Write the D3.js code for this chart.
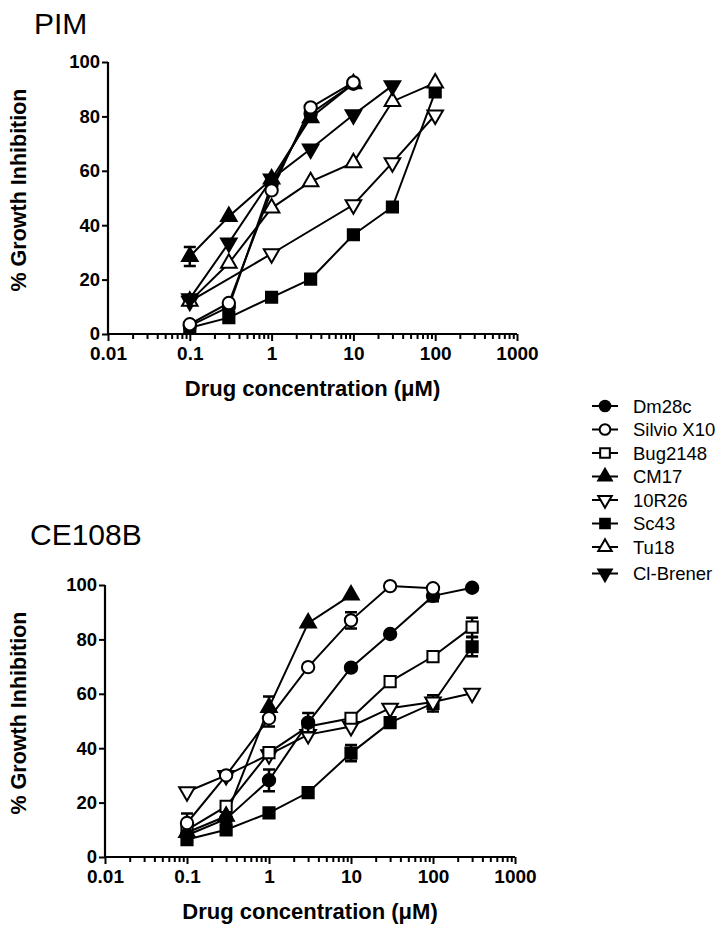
<!DOCTYPE html>
<html>
<head>
<meta charset="utf-8">
<script src="https://cdn.jsdelivr.net/npm/d3@7"></script>
<style>
  html, body { margin: 0; padding: 0; background: #fff; }
  svg { display: block; }
  text { font-family: "Liberation Sans", Arial, sans-serif; fill: #000; }
</style>
</head>
<body>
<svg id="chart" width="721" height="928"></svg>
<script>
// ---------------- DATA ----------------
const doses = [0.1, 0.3, 1, 3, 10, 30, 100, 300];
const strainNames = ["Dm28c", "Silvio X10", "Bug2148", "CM17", "10R26", "Sc43", "Tu18", "Cl-Brener"];
const xTickLabels = ["0.01", "0.1", "1", "10", "100", "1000"];
const yTickLabels = [0, 20, 40, 60, 80, 100];

// PIM panel (% growth inhibition per dose; null = not measured)
const pimDm28c    = [3, 10, 55, 81, 92, null, null, null];
const pimSilvioX10 = [3.6, 11.4, 52.8, 83.3, 92.5, null, null, null];
const pimCM17     = [28.5, 43.2, 57, 79.5, 92, null, null, null];
const pim10R26    = [12, null, 29.5, null, 47.5, 63, 80.5, null];
const pimSc43     = [2.3, 6, 13.5, 20.2, 36.5, 46.7, 89, null];
const pimTu18     = [12, 26, 46.3, 56, 63, 85.5, 92.3, null];
const pimClBrener = [13, 33.5, 57, 68, 80.6, 91.3, null, null];
const pimCM17Err  = [3.5, 0, 0, 0, 0, 0, 0, 0];

// CE108B panel
const ceDm28c     = [8, 14, 28.2, 49.4, 69.6, 82, 96, 99];
const ceSilvioX10 = [12.5, 30, 51, 69.8, 87, 99.6, 98.8, null];
const ceBug2148   = [10, 18.6, 38.4, 48, 51, 64.5, 73.7, 84.5];
const ceCM17      = [9, 15, 55, 86, 96.3, null, null, null];
const ce10R26     = [24, 30, 37.6, 45, 48, 54.7, 57, 60.2];
const ceSc43      = [6.4, 10, 16.2, 23.7, 38.2, 49.4, 56.5, 77.3];
const ceDm28cErr  = [0, 0, 4, 3.5, 0, 0, 2, 0];
const ceSilvioErr = [3.5, 0, 3, 0, 3, 0, 0, 0];
const ceBug2148Err = [0, 0, 0, 0, 0, 0, 0, 3.5];
const ceCM17Err   = [0, 0, 4, 0, 0, 0, 0, 0];
const ceSc43Err   = [0, 0, 0, 0, 3, 0, 3, 3.5];

// ---------------- STYLE ----------------
const markerStyle = {
  "Dm28c":      {shape: "circle",   fill: "#000"},
  "Silvio X10": {shape: "circle",   fill: "#fff"},
  "Bug2148":    {shape: "square",   fill: "#fff"},
  "CM17":       {shape: "triUp",    fill: "#000"},
  "10R26":      {shape: "triDown",  fill: "#fff"},
  "Sc43":       {shape: "square",   fill: "#000"},
  "Tu18":       {shape: "triUp",    fill: "#fff"},
  "Cl-Brener":  {shape: "triDown",  fill: "#000"}
};

const panels = [
  {
    title: "PIM", titleX: 34, titleY: 34,
    xRange: [108, 517], yRange: [334, 62],
    series: [
      {name: "Sc43", values: pimSc43},
      {name: "10R26", values: pim10R26},
      {name: "Tu18", values: pimTu18},
      {name: "Cl-Brener", values: pimClBrener},
      {name: "Dm28c", values: pimDm28c},
      {name: "CM17", values: pimCM17, err: pimCM17Err},
      {name: "Silvio X10", values: pimSilvioX10}
    ]
  },
  {
    title: "CE108B", titleX: 30, titleY: 545,
    xRange: [105, 515], yRange: [857, 585],
    series: [
      {name: "Sc43", values: ceSc43, err: ceSc43Err},
      {name: "10R26", values: ce10R26},
      {name: "Bug2148", values: ceBug2148, err: ceBug2148Err},
      {name: "Dm28c", values: ceDm28c, err: ceDm28cErr},
      {name: "CM17", values: ceCM17, err: ceCM17Err},
      {name: "Silvio X10", values: ceSilvioX10, err: ceSilvioErr}
    ]
  }
];

const svg = d3.select("#chart");

function symbolPath(shape, scale) {
  const k = scale || 1;
  if (shape === "circle") return d3.symbol(d3.symbolCircle, 120 * k)();
  if (shape === "square") return d3.symbol(d3.symbolSquare, 125 * k)();
  return d3.symbol(d3.symbolTriangle, 105 * k)();
}
function drawMarker(g, name, x, y, scale) {
  const st = markerStyle[name];
  g.append("path")
    .attr("d", symbolPath(st.shape, scale))
    .attr("transform", `translate(${x},${y})` + (st.shape === "triDown" ? " rotate(180)" : ""))
    .attr("fill", st.fill)
    .attr("stroke", "#000")
    .attr("stroke-width", 2);
}

panels.forEach(p => {
  const x = d3.scaleLog().domain([0.01, 1000]).range(p.xRange);
  const y = d3.scaleLinear().domain([0, 100]).range(p.yRange);
  const g = svg.append("g");

  // title
  g.append("text").attr("x", p.titleX).attr("y", p.titleY)
    .attr("font-size", 30).text(p.title);

  // y axis
  const yAxis = d3.axisLeft(y).tickValues(yTickLabels).tickSize(6).tickPadding(2).tickFormat(d3.format("d"));
  const ya = g.append("g").attr("transform", `translate(${p.xRange[0]},0)`).call(yAxis);
  ya.select(".domain").attr("stroke-width", 2.2).attr("d", `M-0,${p.yRange[1]}V${p.yRange[0]}`);
  ya.selectAll(".tick line").attr("stroke-width", 2);
  ya.selectAll("text").attr("font-size", 18.5).attr("font-weight", "bold")
    .attr("font-family", "'Liberation Sans', Arial, sans-serif").attr("fill", "#000");

  // x axis with minor ticks
  const majors = [0.01, 0.1, 1, 10, 100, 1000];
  const minors = [];
  for (let e = -2; e < 3; e++) for (let m = 2; m <= 9; m++) minors.push(m * Math.pow(10, e));
  const xAxis = d3.axisBottom(x).tickValues(majors).tickSize(7).tickPadding(6)
    .tickFormat((d, i) => xTickLabels[i]);
  const xa = g.append("g").attr("transform", `translate(0,${p.yRange[0]})`).call(xAxis);
  xa.select(".domain").attr("stroke-width", 2.2).attr("d", `M${p.xRange[0]},0H${p.xRange[1]}`);
  xa.selectAll(".tick line").attr("stroke-width", 2);
  xa.selectAll("text").attr("font-size", 19).attr("font-weight", "bold")
    .attr("font-family", "'Liberation Sans', Arial, sans-serif").attr("fill", "#000");
  const xMinor = d3.axisBottom(x).tickValues(minors).tickSize(5).tickFormat("");
  const xm = g.append("g").attr("transform", `translate(0,${p.yRange[0]})`).call(xMinor);
  xm.select(".domain").remove();
  xm.selectAll(".tick line").attr("stroke-width", 2);

  // axis labels
  const midY = (p.yRange[0] + p.yRange[1]) / 2 - 8;
  g.append("text").attr("transform", `translate(26,${midY}) rotate(-90)`)
    .attr("text-anchor", "middle").attr("font-size", 21.5).attr("font-weight", "bold")
    .text("% Growth Inhibition");
  g.append("text").attr("x", (p.xRange[0] + p.xRange[1]) / 2 + 0).attr("y", p.yRange[0] + 62)
    .attr("text-anchor", "middle").attr("font-size", 22).attr("font-weight", "bold")
    .text("Drug concentration (μM)");

  // lines
  const line = d3.line().defined(d => d.v != null).x(d => x(d.c)).y(d => y(d.v));
  p.series.forEach(s => {
    const pts = doses.map((c, i) => ({c, v: s.values[i], e: s.err ? s.err[i] : 0})).filter(d => d.v != null);
    g.append("path").datum(pts).attr("d", line).attr("fill", "none")
      .attr("stroke", "#000").attr("stroke-width", 2);
  });
  // error bars and markers
  p.series.forEach(s => {
    const pts = doses.map((c, i) => ({c, v: s.values[i], e: s.err ? s.err[i] : 0})).filter(d => d.v != null);
    pts.filter(d => d.e > 0).forEach(d => {
      const cx = x(d.c), y1 = y(d.v - d.e), y2 = y(d.v + d.e);
      g.append("path").attr("d", `M${cx},${y1}V${y2}M${cx - 6},${y1}H${cx + 6}M${cx - 6},${y2}H${cx + 6}`)
        .attr("stroke", "#000").attr("stroke-width", 2.5).attr("fill", "none");
    });
    pts.forEach(d => drawMarker(g, s.name, x(d.c), y(d.v)));
  });
});

// legend
const legendY0 = 406, legendStep = 23.5;
strainNames.forEach((name, i) => {
  const ly = legendY0 + i * legendStep + (i === 7 ? 3 : 0);
  const lg = svg.append("g");
  lg.append("line").attr("x1", 592).attr("x2", 618).attr("y1", ly).attr("y2", ly)
    .attr("stroke", "#000").attr("stroke-width", 2);
  drawMarker(lg, name, 605, ly, 0.75);
  lg.append("text").attr("x", 633).attr("y", ly + 6.5).attr("font-size", 18.5).text(name);
});
</script>
</body>
</html>
